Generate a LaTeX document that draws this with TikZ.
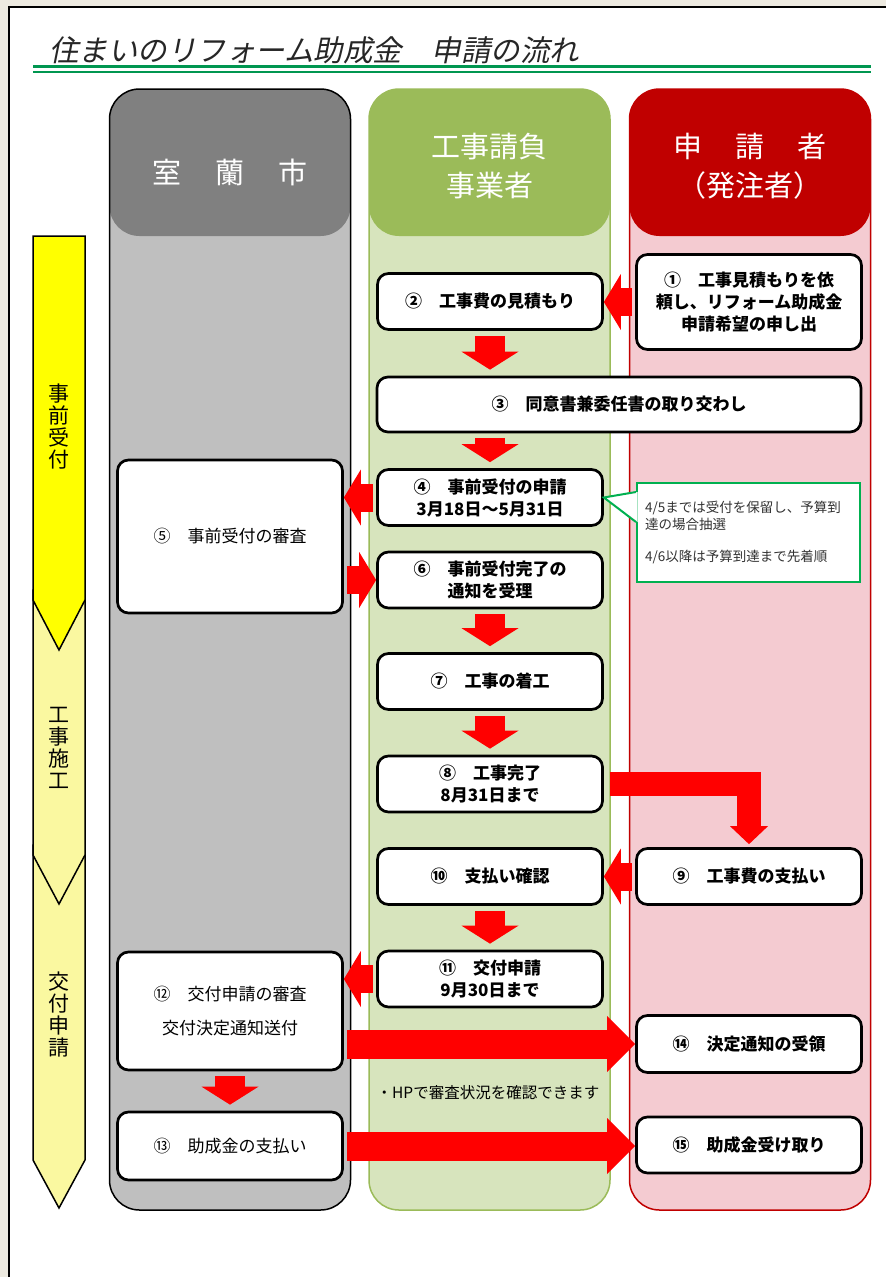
\documentclass[tikz,border=0pt]{standalone}
\usepackage{fontspec}
\setmainfont{Noto Sans CJK JP}
\newfontfamily\jpslant{Noto Sans CJK JP}[FakeSlant=0.2]
\usetikzlibrary{calc,arrows.meta,positioning}
\definecolor{pagebg}{RGB}{237,234,224}
\definecolor{hdrgray}{RGB}{128,128,128}
\definecolor{bodygray}{RGB}{191,191,191}
\definecolor{hdrgreen}{RGB}{155,187,89}
\definecolor{bodygreen}{RGB}{215,228,189}
\definecolor{hdrred}{RGB}{192,0,0}
\definecolor{bodyred}{RGB}{244,203,209}
\definecolor{arrred}{RGB}{255,0,0}
\definecolor{phaseyel}{RGB}{255,255,0}
\definecolor{phasepale}{RGB}{250,248,160}
\definecolor{linegreen}{RGB}{0,150,80}
\definecolor{notegreen}{RGB}{0,176,80}
\begin{document}
\begin{tikzpicture}[x=1pt, y=-1pt,
    lane/.style={line width=1.5pt, rounded corners=30pt, minimum width=241pt, minimum height=1121pt, inner sep=0pt},
    lanehead/.style={text=white, align=center, font=\fontsize{29}{39}\selectfont},
    stepbox/.style={draw, line width=2.7pt, fill=white, rounded corners=11pt, minimum width=225pt, minimum height=56pt, align=center, inner sep=2pt, font=\bfseries\fontsize{17}{22}\selectfont},
    citybox/.style={stepbox, font=\fontsize{17}{22}\selectfont},
    phase/.style={draw, line width=1.5pt},
    phaselabel/.style={align=center, font=\fontsize{21}{22}\selectfont},
    downarr/.style={draw=arrred, line width=30pt, shorten <=5pt, shorten >=6pt, -{Triangle[width=57pt,length=18pt,line width=0pt 0]}},
    sidearr/.style={draw=arrred, line width=28pt, shorten <=3pt, -{Triangle[width=56pt,length=17pt,line width=0pt 0]}},
    bigarr/.style={draw=arrred, line width=29pt, shorten <=3pt, -{Triangle[width=56pt,length=28pt,line width=0pt 0]}}]
    \useasboundingbox (0,0) rectangle (886,1277);
    \fill[pagebg] (0,0) rectangle (886,1277);
    \fill[white] (9,7) rectangle (886,1277);
    \draw[line width=1.5pt] (9,1277) -- (9,7) -- (886,7);

    \node[anchor=west, inner sep=0pt, text=black!85, font=\jpslant\fontsize{29.5}{32}\selectfont] (title) at (49,50) {住まいのリフォーム助成金　申請の流れ};
    \draw[linegreen, line width=2.2pt] (33,66.5) -- (871,66.5);
    \draw[linegreen, line width=2.2pt] (33,72) -- (871,72);

    \node[lane, draw=black, fill=bodygray, path picture={\fill[hdrgray] (path picture bounding box.north west) rectangle ([yshift=-147pt]path picture bounding box.north east);}] (city) at (230,649.5) {};
    \node[lane, draw=hdrgreen, fill=bodygreen, path picture={\fill[hdrgreen] (path picture bounding box.north west) rectangle ([yshift=-147pt]path picture bounding box.north east);}] (builder) at (489.5,649.5) {};
    \node[lane, draw=hdrred, fill=bodyred, path picture={\fill[hdrred] (path picture bounding box.north west) rectangle ([yshift=-147pt]path picture bounding box.north east);}] (applicant) at (750,649.5) {};
    \node[lanehead] (cityhead) at ([yshift=-84pt]city.north) {室\hspace{34pt}蘭\hspace{34pt}市};
    \node[lanehead] (builderhead) at ([yshift=-78pt]builder.north) {工事請負\\事業者};
    \node[lanehead] (applicanthead) at ([yshift=-78pt]applicant.north) {申\hspace{33pt}請\hspace{33pt}者\\（発注者）};

    \draw[phase, fill=phasepale] (33,845) -- (85,845) -- (85,1160) -- (59,1208) -- (33,1160) -- cycle;
    \draw[phase, fill=phasepale] (33,590) -- (85,590) -- (85,855) -- (59,904) -- (33,855) -- cycle;
    \draw[phase, fill=phaseyel] (33,236) -- (85,236) -- (85,600) -- (59,650) -- (33,600) -- cycle;
    \node[phaselabel] (phase1) at (59,427) {事\\前\\受\\付};
    \node[phaselabel] (phase2) at (59,748) {工\\事\\施\\工};
    \node[phaselabel] (phase3) at (59,1014) {交\\付\\申\\請};

    \node[stepbox, minimum height=95pt] (n1) at (749,302) {①　工事見積もりを依\\頼し、リフォーム助成金\\申請希望の申し出};
    \node[stepbox] (n2) at (490,301.5) {②　工事費の見積もり};
    \node[stepbox, minimum width=484pt, minimum height=55pt] (n3) at (619,404.5) {③　同意書兼委任書の取り交わし};
    \node[stepbox] (n4) at (490,497.5) {④　事前受付の申請\\3月18日～5月31日};
    \node[citybox, minimum height=153pt] (n5) at (230,536.5) {⑤　事前受付の審査};
    \node[stepbox] (n6) at (490,580) {⑥　事前受付完了の\\通知を受理};
    \node[stepbox] (n7) at (490,681.5) {⑦　工事の着工};
    \node[stepbox] (n8) at (490,784) {⑧　工事完了\\8月31日まで};
    \node[stepbox] (n9) at (749,876.5) {⑨　工事費の支払い};
    \node[stepbox] (n10) at (490,876.5) {⑩　支払い確認};
    \node[stepbox] (n11) at (490,979) {⑪　交付申請\\9月30日まで};
    \node[citybox, minimum height=118pt] (n12) at (230,1011) {⑫　交付申請の審査\\[12pt]交付決定通知送付};
    \node[citybox, minimum height=68pt] (n13) at (230,1146) {⑬　助成金の支払い};
    \node[stepbox, minimum height=57pt] (n14) at (749,1044) {⑭　決定通知の受領};
    \node[stepbox] (n15) at (749,1145) {⑮　助成金受け取り};

    \node[draw=notegreen, line width=2pt, fill=white, minimum width=223pt, minimum height=99pt, text width=207pt, align=left, text=black!80, font=\fontsize{13.5}{16.5}\selectfont] (note) at (748.5,532.5) {4/5までは受付を保留し、予算到\\達の場合抽選\\[16pt]4/6以降は予算到達まで先着順};
    \coordinate (ptop) at ($(note.north west)+(0,10)$);
    \coordinate (pbot) at ($(note.north west)+(0,40)$);
    \fill[white] ($(ptop)+(1.5,0)$) -- (n4.east) -- ($(pbot)+(1.5,0)$) -- cycle;
    \draw[notegreen, line width=2pt] (ptop) -- (n4.east) -- (pbot);
    \node[font=\fontsize{15.5}{17}\selectfont] (hpnote) at (488,1093) {・HPで審査状況を確認できます};

    \draw[sidearr] (n1.west) -- (n1.west -| n2.east);
    \draw[downarr] (n2.south) -- (n2.south |- n3.north);
    \draw[downarr] (n4.north |- n3.south) -- (n4.north);
    \draw[sidearr] (n4.west) -- (n4.west -| n5.east);
    \draw[sidearr] (n6.west -| n5.east) -- (n6.west);
    \draw[downarr] (n6.south) -- (n7.north);
    \draw[downarr] (n7.south) -- (n8.north);
    \draw[draw=arrred, line width=24pt, shorten <=6pt, shorten >=3pt, -{Triangle[width=38pt,length=18pt,line width=0pt 0]}] (n8.east) -| (n9.north);
    \draw[sidearr] (n9.west) -- (n10.east);
    \draw[downarr] (n10.south) -- (n11.north);
    \draw[sidearr] (n11.west) -- (n11.west -| n12.east);
    \draw[bigarr] (n12.east |- n14.west) -- (n14.west);
    \draw[downarr] (n12.south) -- (n13.north);
    \draw[bigarr] (n13.east) -- (n13.east -| n15.west);
\end{tikzpicture}
\end{document}
